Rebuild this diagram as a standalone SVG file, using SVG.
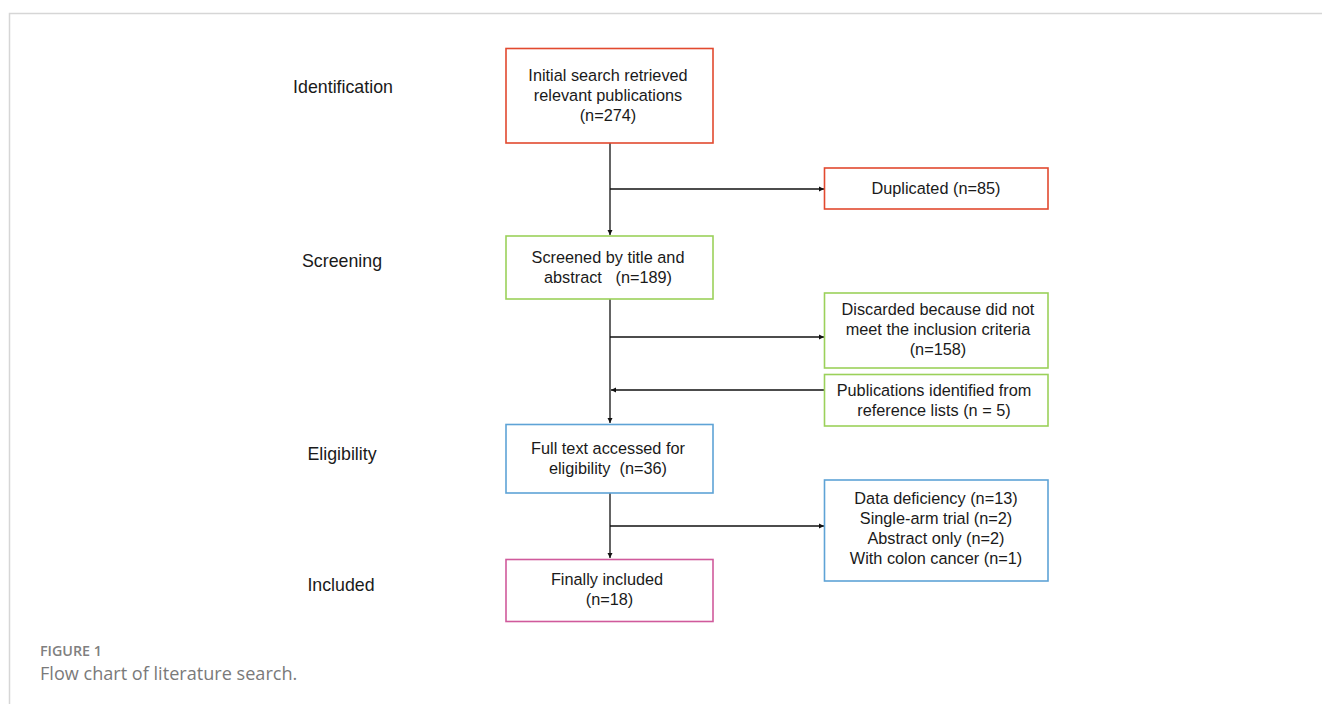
<svg xmlns="http://www.w3.org/2000/svg" width="1322" height="704" viewBox="0 0 1322 704">
<defs>
<marker id="ah" markerWidth="6" markerHeight="6" refX="5" refY="3" orient="auto" markerUnits="userSpaceOnUse">
<path d="M0,0.5 L5,3 L0,5.5 Z" fill="#111"/>
</marker>
<style>
.box{fill:#fff;stroke-width:1.6}
.red{stroke:#e2492f}
.green{stroke:#9bd15a}
.blue{stroke:#5ea3d6}
.pink{stroke:#d05a9c}
.t{font-family:"Liberation Sans",Arial,sans-serif;font-size:16.3px;fill:#1a1a1a;text-anchor:middle}
.lab{font-family:"Liberation Sans",Arial,sans-serif;font-size:17.8px;fill:#1a1a1a;text-anchor:middle}
.conn{stroke:#111;stroke-width:1.3;fill:none}
</style>
</defs>
<rect width="1322" height="704" fill="#fff"/>
<path d="M9.5,710 L9.5,13.5 L1330,13.5" fill="none" stroke="#d6d6d6" stroke-width="1.5"/>

<g id="stage-labels">
<text class="lab" x="343" y="93">Identification</text>
<text class="lab" x="342" y="267">Screening</text>
<text class="lab" x="342" y="460">Eligibility</text>
<text class="lab" x="341" y="591">Included</text>
</g>

<g id="connectors">
<line class="conn" x1="610" y1="143" x2="610" y2="235" marker-end="url(#ah)"/>
<line class="conn" x1="610" y1="189" x2="824" y2="189" marker-end="url(#ah)"/>
<line class="conn" x1="610" y1="299" x2="610" y2="423" marker-end="url(#ah)"/>
<line class="conn" x1="610" y1="337" x2="824" y2="337" marker-end="url(#ah)"/>
<line class="conn" x1="824" y1="390" x2="611" y2="390" marker-end="url(#ah)"/>
<line class="conn" x1="610" y1="493" x2="610" y2="558" marker-end="url(#ah)"/>
<line class="conn" x1="610" y1="526" x2="824" y2="526" marker-end="url(#ah)"/>
</g>

<g id="n-initial">
<rect class="box red" x="506" y="48.5" width="207" height="94.5"/>
<text class="t" x="608" y="80.5">Initial search retrieved</text>
<text class="t" x="608" y="100.5">relevant publications</text>
<text class="t" x="608" y="120.5">(n=274)</text>
</g>

<g id="n-duplicated">
<rect class="box red" x="824.5" y="168" width="223.5" height="41"/>
<text class="t" x="936" y="194">Duplicated (n=85)</text>
</g>

<g id="n-screened">
<rect class="box green" x="506" y="236" width="207" height="63"/>
<text class="t" x="608" y="263">Screened by title and</text>
<text class="t" x="608" y="283" xml:space="preserve">abstract   (n=189)</text>
</g>

<g id="n-discarded">
<rect class="box green" x="824.5" y="293" width="223.5" height="75"/>
<text class="t" x="938" y="315">Discarded because did not</text>
<text class="t" x="938" y="335">meet the inclusion criteria</text>
<text class="t" x="938" y="355">(n=158)</text>
</g>

<g id="n-reflists">
<rect class="box green" x="824.5" y="374.5" width="223.5" height="51.5"/>
<text class="t" x="934" y="396">Publications identified from</text>
<text class="t" x="934" y="416">reference lists (n = 5)</text>
</g>

<g id="n-fulltext">
<rect class="box blue" x="506" y="424.5" width="207" height="68.5"/>
<text class="t" x="608" y="454">Full text accessed for</text>
<text class="t" x="608" y="474" xml:space="preserve">eligibility  (n=36)</text>
</g>

<g id="n-excluded">
<rect class="box blue" x="824.5" y="480" width="223.5" height="101"/>
<text class="t" x="936" y="504">Data deficiency (n=13)</text>
<text class="t" x="936" y="524">Single-arm trial (n=2)</text>
<text class="t" x="936" y="544">Abstract only (n=2)</text>
<text class="t" x="936" y="564">With colon cancer (n=1)</text>
</g>

<g id="n-included">
<rect class="box pink" x="506" y="559.5" width="207" height="62"/>
<text class="t" x="607" y="585">Finally included</text>
<text class="t" x="609.5" y="605">(n=18)</text>
</g>

<g id="caption">
<text x="40" y="656" font-family="'Open Sans',Lato,sans-serif" font-size="14.3" font-weight="600" fill="#808080">FIGURE 1</text>
<text x="40" y="680" font-family="'Open Sans',Lato,sans-serif" font-size="18.1" fill="#7a7a7a">Flow chart of literature search.</text>
</g>
</svg>
